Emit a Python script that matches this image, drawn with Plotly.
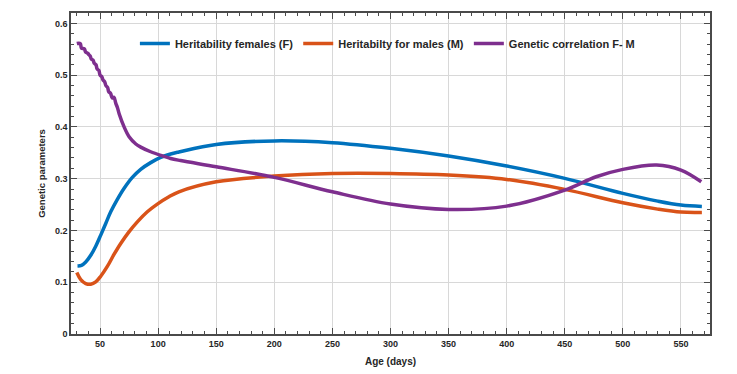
import plotly.graph_objects as go

# ---- data ----
female_x = [30.6, 34, 37.7, 42, 46.3, 50.6, 54.9, 59.2, 64.9, 70.6, 77.8, 85, 93.6, 102.2, 110.7, 117.9,
            150, 200, 250, 300, 350, 400, 450, 500, 530, 550, 568]
female_y = [0.1316, 0.1325, 0.139, 0.152, 0.1696, 0.191, 0.2135, 0.236, 0.260, 0.281, 0.3025, 0.318, 0.331,
            0.341, 0.3476, 0.3515, 0.366, 0.373, 0.3695, 0.3586, 0.3437, 0.3244, 0.3006, 0.2716, 0.2567,
            0.249, 0.2464]

male_x = [30, 33.4, 37.7, 42, 46.3, 50.6, 56.4, 62, 67.8, 74.9, 82.1, 90.7, 99.3, 109.3, 117.9, 150, 200,
          250, 300, 350, 400, 450, 500, 530, 550, 568]
male_y = [0.1188, 0.1052, 0.0975, 0.0961, 0.1006, 0.1116, 0.131, 0.1536, 0.1749, 0.1973, 0.2166, 0.236,
          0.2509, 0.265, 0.2747, 0.294, 0.305, 0.310, 0.310, 0.307, 0.2986, 0.2793, 0.2534, 0.2412, 0.2354,
          0.2348]

corr_x = [30, 33, 34, 36.5, 37.5, 39.5, 40.5, 41.5, 42.5, 44, 45, 46.5, 47.5, 49, 50, 51.5, 52.5, 54, 55,
          56.5, 57.5, 59, 60.5, 62, 63.5, 65, 66.5, 70.7, 75, 80.8, 85, 93.6, 102.2, 110.7, 119.3, 150, 200,
          250, 300, 350, 400, 450, 477, 500, 529, 550, 567.5]
corr_y = [0.561, 0.561, 0.552, 0.551, 0.545, 0.542, 0.539, 0.537, 0.531, 0.529, 0.523, 0.520, 0.512, 0.509,
          0.500, 0.497, 0.491, 0.487, 0.480, 0.476, 0.468, 0.465, 0.456, 0.457, 0.446, 0.437, 0.425, 0.400,
          0.381, 0.367, 0.361, 0.352, 0.345, 0.339, 0.335, 0.323, 0.3025, 0.2747, 0.251, 0.2406, 0.247,
          0.278, 0.3037, 0.318, 0.3263, 0.3166, 0.294]

series_names = ["Heritability females (F)", "Heritabilty for males (M)", "Genetic correlation F- M"]
series_colors = ["#0072BD", "#D95319", "#7E2F8E"]

x_ticks = [50, 100, 150, 200, 250, 300, 350, 400, 450, 500, 550]
y_ticks = [0, 0.1, 0.2, 0.3, 0.4, 0.5, 0.6]

FONT = "Liberation Sans, Arial, sans-serif"
TXT = "#262626"

fig = go.Figure()
for xs, ys, name, col in zip([female_x, male_x, corr_x], [female_y, male_y, corr_y], series_names, series_colors):
    fig.add_trace(go.Scatter(x=xs, y=ys, mode="lines", name=name,
                             line=dict(color=col, width=3.5, shape="spline", smoothing=1.0)))

axis_common = dict(
    showline=True, linecolor="#4a4a4a", linewidth=1.5, mirror="allticks",
    ticks="inside", ticklen=6, tickwidth=1.3, tickcolor="#4a4a4a",
    showgrid=True, gridcolor="#d8d8d8", gridwidth=1, zeroline=False,
    tickfont=dict(family=FONT, size=9, color=TXT, weight="bold"),
)

fig.update_xaxes(range=[25, 575], tickvals=x_ticks,
                 minor=dict(ticks="inside", dtick=10, tick0=0, ticklen=3, tickwidth=1.2,
                            tickcolor="#4a4a4a", showgrid=False),
                 title=dict(text="Age (days)", standoff=10,
                            font=dict(family=FONT, size=10, color=TXT, weight="bold")),
                 **axis_common)
fig.update_yaxes(range=[0, 0.62], tickvals=y_ticks,
                 minor=dict(ticks="inside", dtick=0.02, tick0=0, ticklen=3, tickwidth=1.2,
                            tickcolor="#4a4a4a", showgrid=False),
                 title=dict(text="Genetic parameters", standoff=8,
                            font=dict(family=FONT, size=9.5, color=TXT, weight="bold")),
                 **axis_common)

# page body adds an 8px offset, so the figure is sized/margined to compensate
fig.update_layout(
    width=729, height=366,
    margin=dict(l=63, r=27, t=5, b=40, autoexpand=False),
    paper_bgcolor="white", plot_bgcolor="white",
    showlegend=True,
    legend=dict(orientation="h", x=0.1, xanchor="left", y=0.905, yanchor="middle",
                bgcolor="rgba(0,0,0,0)", itemwidth=30, tracegroupgap=0,
                font=dict(family=FONT, size=11, color=TXT, weight="bold")),
    shapes=[dict(type="rect", xref="paper", yref="paper", x0=0.1315, x1=0.85, y0=0.844, y1=0.996,
                 fillcolor="white", line=dict(width=0), layer="between")],
)

fig.write_html("out.html")
